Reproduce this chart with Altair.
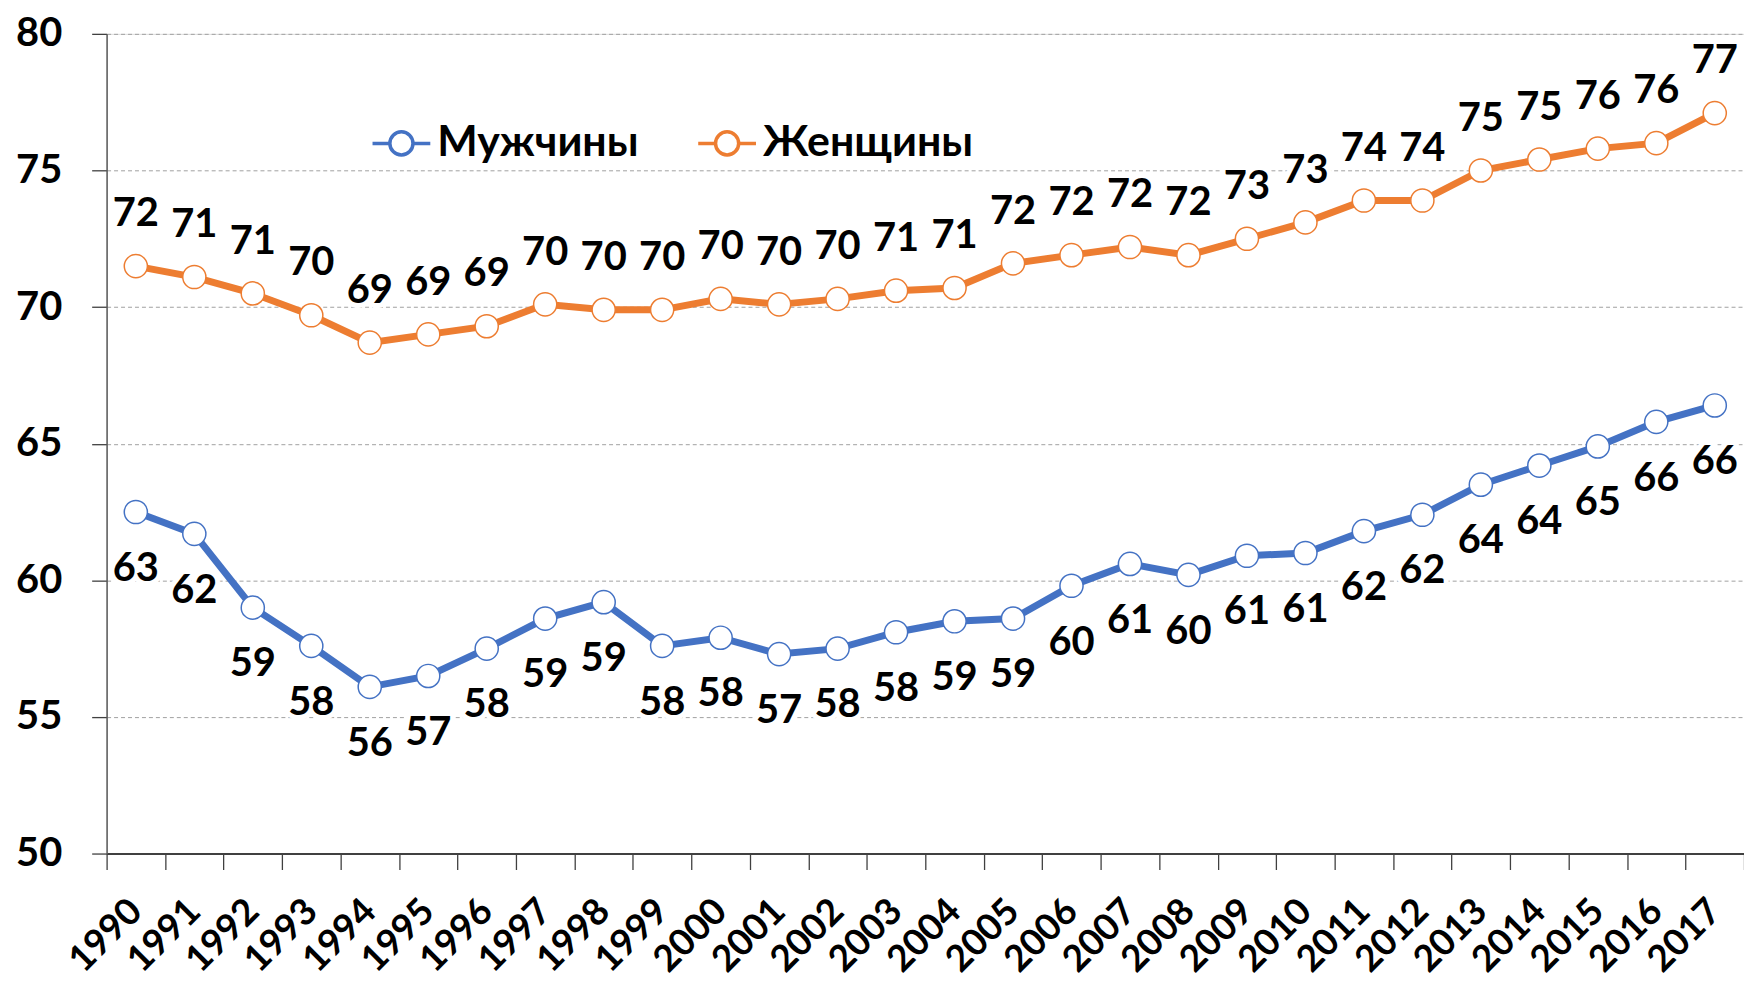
import altair as alt
import pandas as pd

years = [str(y) for y in range(1990, 2018)]
series_names = ["Мужчины", "Женщины"]

men = [62.5, 61.7, 59.0, 57.6, 56.1, 56.5, 57.5, 58.6, 59.2, 57.6, 57.9, 57.3, 57.5, 58.1,
       58.5, 58.6, 59.8, 60.6, 60.2, 60.9, 61.0, 61.8, 62.4, 63.5, 64.2, 64.9, 65.8, 66.4]
women = [71.5, 71.1, 70.5, 69.7, 68.7, 69.0, 69.3, 70.1, 69.9, 69.9, 70.3, 70.1, 70.3, 70.6,
         70.7, 71.6, 71.9, 72.2, 71.9, 72.5, 73.1, 73.9, 73.9, 75.0, 75.4, 75.8, 76.0, 77.1]
men_labels = ["63", "62", "59", "58", "56", "57", "58", "59", "59", "58", "58", "57", "58", "58",
              "59", "59", "60", "61", "60", "61", "61", "62", "62", "64", "64", "65", "66", "66"]
women_labels = ["72", "71", "71", "70", "69", "69", "69", "70", "70", "70", "70", "70", "70", "71",
                "71", "72", "72", "72", "72", "73", "73", "74", "74", "75", "75", "76", "76", "77"]
colors = ["#4472C4", "#ED7D31"]
y_ticks = [50, 55, 60, 65, 70, 75, 80]

rows = []
for i, y in enumerate(years):
    rows.append({"year": y, "series": series_names[0], "value": men[i], "label": men_labels[i]})
    rows.append({"year": y, "series": series_names[1], "value": women[i], "label": women_labels[i]})
df = pd.DataFrame(rows)

FONT = "Lato, 'Open Sans', sans-serif"

color_scale = alt.Scale(domain=series_names, range=colors)
legend_symbol = "M-1,0L-0.4,0M0.4,0L1,0M-0.4,0A0.4,0.4,0,1,1,0.4,0A0.4,0.4,0,1,1,-0.4,0Z"

base = alt.Chart(df).encode(
    x=alt.X("year:O", sort=years, scale=alt.Scale(paddingInner=0, paddingOuter=0),
            axis=alt.Axis(title=None, labelAngle=-45, labelAlign="right", labelBaseline="middle",
                          labelFont=FONT, labelFontSize=37, labelFontWeight="bold", labelColor="black",
                          labelPadding=36, tickSize=16, tickColor="#404040", tickWidth=1.3,
                          tickBand="extent", domainColor="#404040", domainWidth=2, grid=False)),
    y=alt.Y("value:Q", scale=alt.Scale(domain=[50, 80], nice=False, zero=False),
            axis=alt.Axis(title=None, values=y_ticks, labelFont=FONT, labelFontSize=40,
                          labelFontWeight="bold", labelColor="black", labelPadding=30,
                          tickSize=15, tickColor="#404040", tickWidth=1.3,
                          domainColor="#595959", domainWidth=1.5,
                          grid=True, gridColor="#a0a0a0", gridDash=[4, 3], gridWidth=1)),
)

lines = base.mark_line(strokeWidth=7).encode(
    color=alt.Color("series:N", scale=color_scale, sort=series_names,
                    legend=alt.Legend(title=None, orient="none", legendX=265, legendY=79,
                                      direction="horizontal", symbolType=legend_symbol,
                                      symbolSize=3364, symbolStrokeWidth=3.5, symbolFillColor="white",
                                      labelFont=FONT, labelFontSize=43, labelFontWeight="bold",
                                      labelColor="black", labelOffset=5, columnPadding=52,
                                      padding=0, labelLimit=400)),
    detail="series:N",
)

points = base.mark_point(shape="circle", filled=False, fill="white", fillOpacity=1,
                         size=540, strokeWidth=1.5, opacity=1).encode(
    color=alt.Color("series:N", scale=color_scale, legend=None),
)

def label_layers(name, dy):
    sub = base.transform_filter(alt.datum.series == name)
    halo = sub.mark_text(font=FONT, fontSize=40, fontWeight="bold", dy=dy, baseline="middle",
                         stroke="white", strokeWidth=10, strokeJoin="round", color="white").encode(
        text="label:N")
    txt = sub.mark_text(font=FONT, fontSize=40, fontWeight="bold", dy=dy, baseline="middle",
                        color="black").encode(text="label:N")
    return [halo, txt]

layers = [lines, points] + label_layers("Женщины", -52) + label_layers("Мужчины", 57)

chart = alt.layer(*layers).properties(
    width=1644, height=823,
    autosize=alt.AutoSizeParams(type="none"),
    padding={"left": 99, "top": 24, "right": 0, "bottom": 124},
).configure_view(stroke=None).configure(background="white")

chart.save("out.html", embed_options={"renderer": "svg", "actions": False})
